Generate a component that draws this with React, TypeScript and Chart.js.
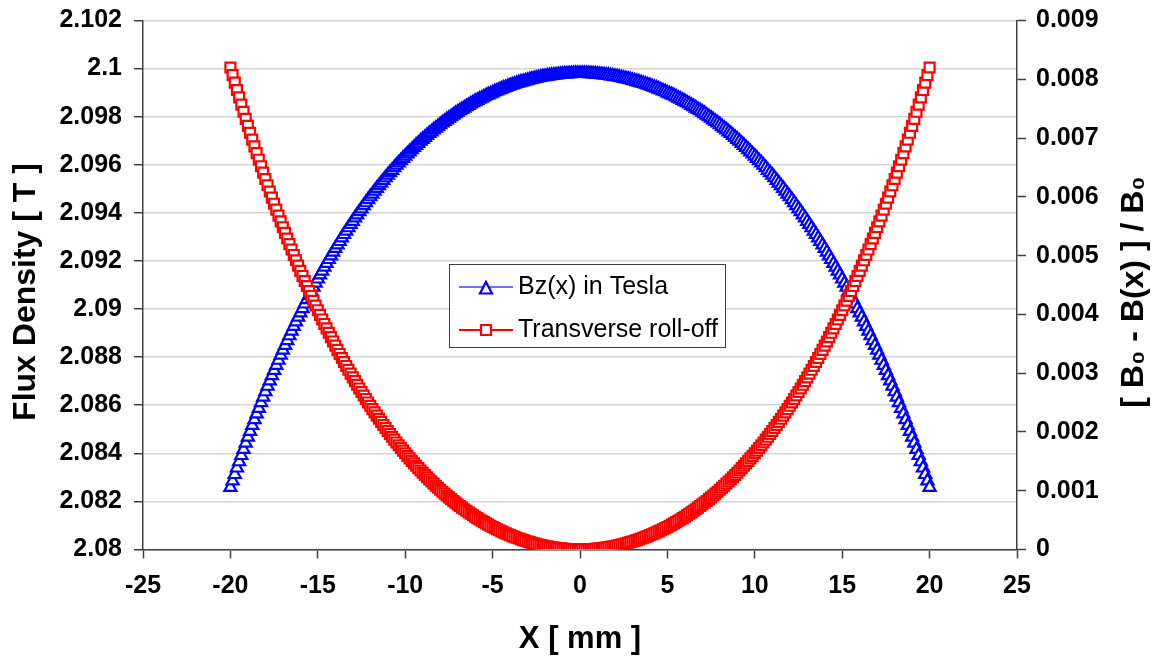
import React, { useEffect, useRef } from 'react';
import { Chart, registerables } from 'chart.js';

Chart.register(...registerables);

// ---------- data ----------
const X_STEP_MM = 0.125;
const X_COUNT = 321; // -20 mm .. +20 mm
const X_MM: number[] = Array.from({ length: X_COUNT }, (_, i) => -20 + i * X_STEP_MM);

// Bz(x) in Tesla, x from -20 to 0 mm
const BZ_NEG = [
  2.08258, 2.08285, 2.08312, 2.08339, 2.08365, 2.08391, 2.08416, 2.08442, 2.08467, 2.08491,
  2.08516, 2.0854, 2.08564, 2.08587, 2.08611, 2.08634, 2.08656, 2.08679, 2.08701, 2.08723,
  2.08745, 2.08766, 2.08787, 2.08808, 2.08829, 2.08849, 2.08869, 2.08889, 2.08908, 2.08928,
  2.08947, 2.08966, 2.08984, 2.09002, 2.09021, 2.09039, 2.09057, 2.09074, 2.09091, 2.09108,
  2.09125, 2.09142, 2.09158, 2.09174, 2.0919, 2.09206, 2.09221, 2.09237, 2.09252, 2.09267,
  2.09281, 2.09296, 2.0931, 2.09324, 2.09338, 2.09352, 2.09365, 2.09379, 2.09392, 2.09405,
  2.09417, 2.0943, 2.09442, 2.09455, 2.09467, 2.09478, 2.0949, 2.09502, 2.09513, 2.09524,
  2.09535, 2.09546, 2.09557, 2.09567, 2.09577, 2.09588, 2.09598, 2.09608, 2.09617, 2.09627,
  2.09636, 2.09645, 2.09654, 2.09663, 2.09672, 2.09681, 2.09689, 2.09698, 2.09706, 2.09714,
  2.09722, 2.0973, 2.09737, 2.09745, 2.09752, 2.09759, 2.09767, 2.09774, 2.0978, 2.09787,
  2.09794, 2.098, 2.09806, 2.09813, 2.09819, 2.09825, 2.0983, 2.09836, 2.09842, 2.09847,
  2.09853, 2.09858, 2.09863, 2.09868, 2.09873, 2.09877, 2.09882, 2.09887, 2.09891, 2.09895,
  2.09899, 2.09904, 2.09907, 2.09911, 2.09915, 2.09919, 2.09922, 2.09926, 2.09929, 2.09932,
  2.09935, 2.09938, 2.09941, 2.09944, 2.09946, 2.09949, 2.09951, 2.09954, 2.09956, 2.09958,
  2.0996, 2.09962, 2.09964, 2.09966, 2.09967, 2.09969, 2.0997, 2.09972, 2.09973, 2.09974,
  2.09975, 2.09976, 2.09977, 2.09978, 2.09978, 2.09979, 2.09979, 2.0998, 2.0998, 2.0998,
  2.0998,
];
// Bz(x) in Tesla, x from 0.125 to 20 mm
const BZ_POS = [
  2.0998, 2.0998, 2.0998, 2.09979, 2.09979, 2.09978, 2.09978, 2.09977, 2.09976,
  2.09975, 2.09974, 2.09973, 2.09972, 2.0997, 2.09969, 2.09967, 2.09966, 2.09964, 2.09962,
  2.0996, 2.09958, 2.09956, 2.09954, 2.09951, 2.09949, 2.09946, 2.09944, 2.09941, 2.09938,
  2.09935, 2.09932, 2.09929, 2.09926, 2.09922, 2.09919, 2.09915, 2.09911, 2.09907, 2.09904,
  2.09899, 2.09895, 2.09891, 2.09887, 2.09882, 2.09877, 2.09873, 2.09868, 2.09863, 2.09858,
  2.09853, 2.09847, 2.09842, 2.09836, 2.0983, 2.09825, 2.09819, 2.09813, 2.09806, 2.098,
  2.09794, 2.09787, 2.0978, 2.09774, 2.09767, 2.09759, 2.09752, 2.09745, 2.09737, 2.0973,
  2.09722, 2.09714, 2.09706, 2.09698, 2.09689, 2.09681, 2.09672, 2.09663, 2.09654, 2.09645,
  2.09636, 2.09627, 2.09617, 2.09608, 2.09598, 2.09588, 2.09577, 2.09567, 2.09557, 2.09546,
  2.09535, 2.09524, 2.09513, 2.09502, 2.0949, 2.09478, 2.09467, 2.09455, 2.09442, 2.0943,
  2.09417, 2.09405, 2.09392, 2.09379, 2.09365, 2.09352, 2.09338, 2.09324, 2.0931, 2.09296,
  2.09281, 2.09267, 2.09252, 2.09237, 2.09221, 2.09206, 2.0919, 2.09174, 2.09158, 2.09142,
  2.09125, 2.09108, 2.09091, 2.09074, 2.09057, 2.09039, 2.09021, 2.09002, 2.08984, 2.08966,
  2.08947, 2.08928, 2.08908, 2.08889, 2.08869, 2.08849, 2.08829, 2.08808, 2.08787, 2.08766,
  2.08745, 2.08723, 2.08701, 2.08679, 2.08656, 2.08634, 2.08611, 2.08587, 2.08564, 2.0854,
  2.08516, 2.08491, 2.08467, 2.08442, 2.08416, 2.08391, 2.08365, 2.08339, 2.08312, 2.08285,
  2.08258,
];

// Transverse roll-off (B0 - B(x)) / B0, x from -20 to 0 mm
const ROLLOFF_NEG = [
  0.0082, 0.008071, 0.007943, 0.007817, 0.007692, 0.007568, 0.007447, 0.007326, 0.007207, 0.007089,
  0.006973, 0.006858, 0.006744, 0.006632, 0.006521, 0.006412, 0.006303, 0.006196, 0.006091, 0.005986,
  0.005883, 0.005782, 0.005681, 0.005582, 0.005483, 0.005386, 0.005291, 0.005196, 0.005103, 0.005011,
  0.00492, 0.00483, 0.004741, 0.004654, 0.004567, 0.004482, 0.004397, 0.004314, 0.004232, 0.004151,
  0.004071, 0.003992, 0.003914, 0.003837, 0.003762, 0.003687, 0.003613, 0.00354, 0.003468, 0.003397,
  0.003327, 0.003258, 0.00319, 0.003123, 0.003057, 0.002992, 0.002928, 0.002864, 0.002802, 0.00274,
  0.002679, 0.00262, 0.002561, 0.002502, 0.002445, 0.002389, 0.002333, 0.002278, 0.002224, 0.002171,
  0.002119, 0.002067, 0.002016, 0.001966, 0.001917, 0.001869, 0.001821, 0.001774, 0.001728, 0.001682,
  0.001638, 0.001593, 0.00155, 0.001508, 0.001466, 0.001425, 0.001384, 0.001344, 0.001305, 0.001267,
  0.001229, 0.001192, 0.001156, 0.00112, 0.001085, 0.00105, 0.001016, 0.000983, 0.000951, 0.000919,
  0.000887, 0.000857, 0.000826, 0.000797, 0.000768, 0.00074, 0.000712, 0.000685, 0.000658, 0.000632,
  0.000607, 0.000582, 0.000558, 0.000534, 0.000511, 0.000488, 0.000466, 0.000445, 0.000424, 0.000403,
  0.000384, 0.000364, 0.000345, 0.000327, 0.000309, 0.000292, 0.000275, 0.000259, 0.000244, 0.000228,
  0.000214, 0.000199, 0.000186, 0.000173, 0.00016, 0.000148, 0.000136, 0.000125, 0.000114, 0.000104,
  0.000094, 0.000085, 0.000076, 0.000068, 0.00006, 0.000053, 0.000046, 0.00004, 0.000034, 0.000028,
  0.000023, 0.000019, 0.000015, 0.000011, 0.000008, 0.000006, 0.000004, 0.000002, 0.000001, 0,
  0,
];
// Transverse roll-off, x from 0.125 to 20 mm
const ROLLOFF_POS = [
  0, 0.000001, 0.000002, 0.000004, 0.000006, 0.000008, 0.000011, 0.000015, 0.000019,
  0.000023, 0.000028, 0.000034, 0.00004, 0.000046, 0.000053, 0.00006, 0.000068, 0.000076, 0.000085,
  0.000094, 0.000104, 0.000114, 0.000125, 0.000136, 0.000148, 0.00016, 0.000173, 0.000186, 0.000199,
  0.000214, 0.000228, 0.000244, 0.000259, 0.000275, 0.000292, 0.000309, 0.000327, 0.000345, 0.000364,
  0.000384, 0.000403, 0.000424, 0.000445, 0.000466, 0.000488, 0.000511, 0.000534, 0.000558, 0.000582,
  0.000607, 0.000632, 0.000658, 0.000685, 0.000712, 0.00074, 0.000768, 0.000797, 0.000826, 0.000857,
  0.000887, 0.000919, 0.000951, 0.000983, 0.001016, 0.00105, 0.001085, 0.00112, 0.001156, 0.001192,
  0.001229, 0.001267, 0.001305, 0.001344, 0.001384, 0.001425, 0.001466, 0.001508, 0.00155, 0.001593,
  0.001638, 0.001682, 0.001728, 0.001774, 0.001821, 0.001869, 0.001917, 0.001966, 0.002016, 0.002067,
  0.002119, 0.002171, 0.002224, 0.002278, 0.002333, 0.002389, 0.002445, 0.002502, 0.002561, 0.00262,
  0.002679, 0.00274, 0.002802, 0.002864, 0.002928, 0.002992, 0.003057, 0.003123, 0.00319, 0.003258,
  0.003327, 0.003397, 0.003468, 0.00354, 0.003613, 0.003687, 0.003762, 0.003837, 0.003914, 0.003992,
  0.004071, 0.004151, 0.004232, 0.004314, 0.004397, 0.004482, 0.004567, 0.004654, 0.004741, 0.00483,
  0.00492, 0.005011, 0.005103, 0.005196, 0.005291, 0.005386, 0.005483, 0.005582, 0.005681, 0.005782,
  0.005883, 0.005986, 0.006091, 0.006196, 0.006303, 0.006412, 0.006521, 0.006632, 0.006744, 0.006858,
  0.006973, 0.007089, 0.007207, 0.007326, 0.007447, 0.007568, 0.007692, 0.007817, 0.007943, 0.008071,
  0.0082,
];

const BZ = [...BZ_NEG, ...BZ_POS];
const ROLLOFF = [...ROLLOFF_NEG, ...ROLLOFF_POS];

const X_TICKS = [-25, -20, -15, -10, -5, 0, 5, 10, 15, 20, 25];
const LEFT_TICKS = [2.08, 2.082, 2.084, 2.086, 2.088, 2.09, 2.092, 2.094, 2.096, 2.098, 2.1, 2.102];
const RIGHT_TICKS = [0, 0.001, 0.002, 0.003, 0.004, 0.005, 0.006, 0.007, 0.008, 0.009];

const SERIES_NAMES = ['Bz(x) in Tesla', 'Transverse roll-off'];
const X_TITLE = 'X [ mm ]';
const LEFT_TITLE = 'Flux Density [ T ]';
const RIGHT_TITLE = '[ B\u2080 - B(x) ] / B\u2080';

const FONT = '"Liberation Sans", Arial, sans-serif';
const BLUE = '#0000ff';
const RED = '#ff0000';
const AXIS = '#404040';

const fmt = (v: number) => String(Number(Number(v).toFixed(3)));

export default function App() {
  const ref = useRef<HTMLCanvasElement>(null);

  useEffect(() => {
    if (!ref.current) return;
    const bzData = X_MM.map((x, i) => ({ x, y: BZ[i] }));
    const roData = X_MM.map((x, i) => ({ x, y: ROLLOFF[i] }));

    const overlay = {
      id: 'overlay',
      afterDraw(chart: any) {
        const ctx: CanvasRenderingContext2D = chart.ctx;
        const ca = chart.chartArea;
        ctx.save();
        ctx.fillStyle = '#000';
        ctx.textAlign = 'center';
        ctx.textBaseline = 'middle';
        ctx.font = `bold 32px ${FONT}`;
        // left title
        ctx.save();
        ctx.translate(26, 292);
        ctx.rotate(-Math.PI / 2);
        ctx.fillText(LEFT_TITLE, 0, 0);
        ctx.restore();
        // right title
        ctx.save();
        ctx.translate(1134, 292);
        ctx.rotate(-Math.PI / 2);
        ctx.fillText(RIGHT_TITLE, 0, 0);
        ctx.restore();
        // x title
        ctx.font = `bold 31px ${FONT}`;
        ctx.fillText(X_TITLE, (ca.left + ca.right) / 2, 639);

        // legend
        const bx = 449.5, by = 264.5, bw = 276, bh = 83;
        ctx.fillStyle = '#ffffff';
        ctx.fillRect(bx, by, bw, bh);
        ctx.strokeStyle = AXIS;
        ctx.lineWidth = 1;
        ctx.strokeRect(bx, by, bw, bh);

        const rows = [287, 330];
        // blue entry
        ctx.strokeStyle = '#6f6fff';
        ctx.lineWidth = 2;
        ctx.beginPath();
        ctx.moveTo(459, rows[0]);
        ctx.lineTo(513, rows[0]);
        ctx.stroke();
        ctx.fillStyle = '#ffffff';
        ctx.strokeStyle = BLUE;
        ctx.lineWidth = 2.2;
        ctx.beginPath();
        ctx.moveTo(486, rows[0] - 5);
        ctx.lineTo(492, rows[0] + 6.5);
        ctx.lineTo(480, rows[0] + 6.5);
        ctx.closePath();
        ctx.fill();
        ctx.stroke();
        // red entry
        ctx.strokeStyle = RED;
        ctx.lineWidth = 2;
        ctx.beginPath();
        ctx.moveTo(459, rows[1]);
        ctx.lineTo(513, rows[1]);
        ctx.stroke();
        ctx.fillStyle = '#ffffff';
        ctx.lineWidth = 2.2;
        ctx.beginPath();
        ctx.rect(481, rows[1] - 5, 10, 10);
        ctx.fill();
        ctx.stroke();

        ctx.fillStyle = '#000';
        ctx.textAlign = 'left';
        ctx.font = `25px ${FONT}`;
        ctx.fillText(SERIES_NAMES[0], 518, rows[0]);
        ctx.fillText(SERIES_NAMES[1], 518, rows[1]);
        ctx.restore();
      },
    };

    const tickFont = { family: FONT, size: 25, weight: 'bold' as const };

    const chart = new Chart(ref.current, {
      type: 'line',
      data: {
        datasets: [
          {
            label: SERIES_NAMES[0],
            data: bzData,
            yAxisID: 'yL',
            borderColor: BLUE,
            borderWidth: 1,
            pointStyle: 'triangle',
            pointRadius: 7,
            pointBorderWidth: 2.2,
            pointBorderColor: BLUE,
            pointBackgroundColor: '#ffffff',
            fill: false,
            tension: 0,
            order: 1,
          },
          {
            label: SERIES_NAMES[1],
            data: roData,
            yAxisID: 'yR',
            borderColor: RED,
            borderWidth: 1,
            pointStyle: 'rect',
            pointRadius: 7,
            pointBorderWidth: 2.2,
            pointBorderColor: RED,
            pointBackgroundColor: '#ffffff',
            fill: false,
            tension: 0,
            order: 0,
          },
        ],
      },
      options: {
        responsive: false,
        animation: false,
        devicePixelRatio: 1,
        events: [],
        layout: { padding: { top: 20.5, left: 0, right: 0, bottom: 0 } },
        plugins: {
          legend: { display: false },
          tooltip: { enabled: false },
          title: { display: false },
        },
        scales: {
          x: {
            type: 'linear',
            position: 'bottom',
            min: -25,
            max: 25,
            afterBuildTicks: (s: any) => {
              s.ticks = X_TICKS.map((v) => ({ value: v }));
            },
            afterFit: (s: any) => {
              s.height = 110.5;
              s.paddingLeft = 0;
              s.paddingRight = 0;
            },
            grid: {
              display: true,
              drawOnChartArea: false,
              drawTicks: true,
              tickLength: 9,
              tickColor: AXIS,
              tickWidth: 1.5,
            },
            border: { display: true, color: AXIS, width: 1.5 },
            ticks: {
              color: '#000',
              font: tickFont,
              padding: 13,
              autoSkip: false,
              maxRotation: 0,
              callback: (v: any) => fmt(v),
            },
          },
          yL: {
            type: 'linear',
            position: 'left',
            min: 2.08,
            max: 2.102,
            afterBuildTicks: (s: any) => {
              s.ticks = LEFT_TICKS.map((v) => ({ value: v }));
            },
            afterFit: (s: any) => {
              s.width = 143;
              s.paddingTop = 0;
              s.paddingBottom = 0;
            },
            grid: {
              display: true,
              drawOnChartArea: true,
              color: '#d4d4d4',
              lineWidth: 1.5,
              drawTicks: true,
              tickLength: 9,
              tickColor: AXIS,
              tickWidth: 1.5,
            },
            border: { display: true, color: AXIS, width: 1.5 },
            ticks: {
              color: '#000',
              font: tickFont,
              padding: 12,
              autoSkip: false,
              callback: (v: any) => fmt(v),
            },
          },
          yR: {
            type: 'linear',
            position: 'right',
            min: 0,
            max: 0.009,
            afterBuildTicks: (s: any) => {
              s.ticks = RIGHT_TICKS.map((v) => ({ value: v }));
            },
            afterFit: (s: any) => {
              s.width = 144;
              s.paddingTop = 0;
              s.paddingBottom = 0;
            },
            grid: {
              display: true,
              drawOnChartArea: false,
              drawTicks: true,
              tickLength: 9,
              tickColor: AXIS,
              tickWidth: 1.5,
            },
            border: { display: true, color: AXIS, width: 1.5 },
            ticks: {
              color: '#000',
              font: tickFont,
              padding: 10,
              autoSkip: false,
              callback: (v: any) => fmt(v),
            },
          },
        },
      } as any,
      plugins: [overlay],
    });

    return () => chart.destroy();
  }, []);

  return (
    <div style={{ position: 'absolute', left: 0, top: 0, width: 1161, height: 660, background: '#ffffff' }}>
      <canvas ref={ref} width={1161} height={660} style={{ display: 'block', width: 1161, height: 660 }} />
    </div>
  );
}
